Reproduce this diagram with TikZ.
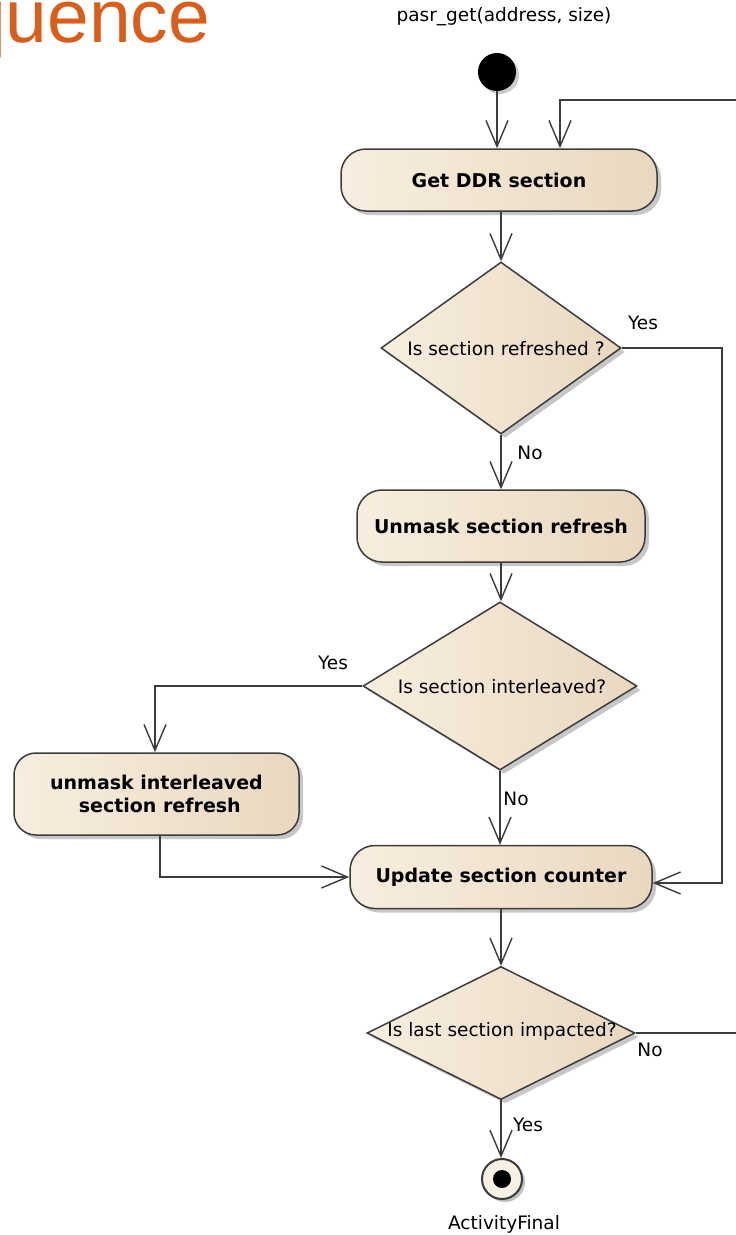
\documentclass[tikz,border=0pt]{standalone}
\usepackage{fontspec}
\setmainfont{DejaVu Sans}
\newfontfamily\titlefont{Liberation Sans}
\usetikzlibrary{arrows.meta,shapes.geometric,shadows}

\definecolor{linec}{HTML}{3C3C3C}
\definecolor{fillL}{HTML}{F8EEDF}
\definecolor{fillM}{HTML}{FBF3E8}
\definecolor{fillR}{HTML}{E9D8C0}
\definecolor{titleor}{HTML}{D95E1C}
\definecolor{finalfill}{HTML}{F8F0E2}

\tikzset{
  shade box/.style={left color=fillL, middle color=fillM, right color=fillR,
    draw=linec, line width=1.5pt,
    drop shadow={shadow xshift=4pt, shadow yshift=-4pt, opacity=0.22, fill=black}},
  action/.style={shade box, rectangle, rounded corners=25pt, inner sep=0pt,
    font=\fontsize{19}{25}\selectfont\bfseries, align=center},
  decision/.style={shade box, diamond, inner sep=0pt, text width=0pt},
  dtext/.style={font=\fontsize{18.5}{22}\selectfont, inner sep=0pt},
  lbl/.style={font=\fontsize{18.5}{22}\selectfont, inner sep=0pt},
  flow/.style={draw=linec, line width=1.4pt,
    -{Straight Barb[length=26pt, width=22pt, line width=1.4pt]}},
}

\begin{document}
\begin{tikzpicture}[x=1pt, y=-1pt]
\useasboundingbox (0,0) rectangle (736,1235);
\clip (0,0) rectangle (736,1235);
\fill[white] (0,0) rectangle (736,1235);

% slide title, cut at the left edge
\node[anchor=base west, inner sep=0pt, text=titleor,
      font=\titlefont\fontsize{75}{80}\selectfont] (title) at (-36,42) {quence};

% activity name
\node[lbl] (sig) at (504,17) {pasr\_get(address, size)};

% initial node
\node[circle, fill=black, minimum size=38pt, inner sep=0pt,
      drop shadow={shadow xshift=3pt, shadow yshift=-3pt, opacity=0.2, fill=black}]
      (init) at (497,72) {};

% actions
\node[action, minimum width=316pt, minimum height=62pt] (get) at (499,180) {Get DDR section};
\node[action, minimum width=288pt, minimum height=72pt] (unm) at (501,526) {Unmask section refresh};
\node[action, minimum width=285pt, minimum height=82pt, rounded corners=22pt] (inter) at (156.5,794)
     {unmask interleaved\\[-2pt]\ section refresh};
\node[action, minimum width=302pt, minimum height=63pt] (upd) at (501,877) {Update section counter};

% decisions
\node[decision, minimum width=240pt, minimum height=172pt] (d1) at (501,348) {};
\node[dtext] (d1t) at (506,349) {Is section refreshed ?};
\node[decision, minimum width=274pt, minimum height=168pt] (d2) at (500,686) {};
\node[dtext] (d2t) at (502,687) {Is section interleaved?};
\node[decision, minimum width=268pt, minimum height=133pt] (d3) at (501,1033) {};
\node[dtext] (d3t) at (502,1031) {Is last section impacted?};

% final node
\node[circle, fill=finalfill, draw=linec, line width=2pt, minimum size=40pt, inner sep=0pt,
      drop shadow={shadow xshift=3pt, shadow yshift=-3pt, opacity=0.25, fill=black},
      path picture={\fill[black] (path picture bounding box.center) circle (9pt);}]
      (fin) at (502,1179) {};
\node[lbl] (finlbl) at (504,1224) {ActivityFinal};

% guard labels
\node[lbl] (y1) at (643,323) {Yes};
\node[lbl] (n1) at (530,453) {No};
\node[lbl] (y2) at (333,663) {Yes};
\node[lbl] (n2) at (516,799) {No};
\node[lbl] (n3) at (650,1050) {No};
\node[lbl] (y3) at (528,1125) {Yes};

% loop return lane, running off to the right
\coordinate (ret) at (780,100);
\coordinate (r1) at (722,348);

% connectors
\draw[flow] (init.south) -- (init.south |- get.north);
\draw[flow] (d3.east) -| (ret) -| ([xshift=61pt]get.north);
\draw[flow] (get.south -| d1.north) -- (d1.north);
\draw[flow] (d1.south) -- (d1.south |- unm.north);
\draw[flow] (d1.east) -- (r1) |- ([yshift=-6pt]upd.east);
\draw[flow] (unm.south) -- (unm.south |- d2.north);
\draw[flow] (d2.west) -| ([xshift=-1.5pt]inter.north);
\draw[flow] ([xshift=3.5pt]inter.south) |- (upd.west);
\draw[flow] (d2.south) -- (d2.south |- upd.north);
\draw[flow] (upd.south) -- (upd.south |- d3.north);
\draw[flow] (d3.south) -- (d3.south |- fin.north);
\end{tikzpicture}
\end{document}
